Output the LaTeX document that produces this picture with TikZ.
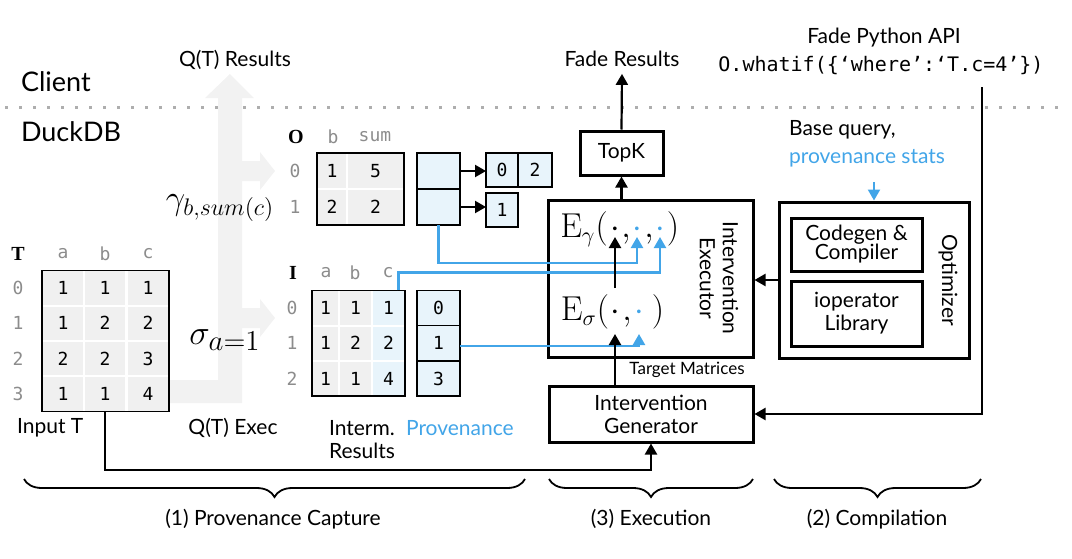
\documentclass[tikz,border=0pt]{standalone}
\usepackage[no-math]{fontspec}
\setmainfont{Lato}
\setmonofont{DejaVu Sans Mono}
\newfontfamily\tabserif{Liberation Serif}
\usetikzlibrary{arrows.meta,decorations.pathreplacing}

\definecolor{provblue}{HTML}{42A5E8}
\definecolor{cellblue}{HTML}{E8F4FB}
\definecolor{cellgray}{HTML}{F0F0F0}
\definecolor{flowgray}{HTML}{F2F2F2}
\definecolor{idxgray}{HTML}{8C8C8C}

\tikzset{
    gcell/.style={draw=white, line width=1pt, fill=cellgray, inner sep=0pt, outer sep=0pt,
        font=\ttfamily\fontsize{9}{10}\selectfont},
    bcell/.style={gcell, fill=cellblue},
    pcell/.style={draw=black, line width=0.75pt, fill=cellblue, inner sep=0pt, outer sep=0pt,
        font=\ttfamily\fontsize{9}{10}\selectfont},
    idx/.style={text=idxgray, inner sep=0pt, font=\ttfamily\fontsize{9}{10}\selectfont},
    tname/.style={inner sep=0pt, font=\tabserif\bfseries\fontsize{10}{11}\selectfont},
    bigbox/.style={draw, line width=1.5pt, inner sep=0pt, align=center},
    lbl/.style={font=\fontsize{10.5}{11.5}\selectfont},
    form/.style={inner sep=0pt, anchor=base, font=\fontsize{16}{18}\selectfont},
    arr/.style={-{Triangle[length=5.5pt,width=6pt]}, line width=1.1pt},
    provarr/.style={arr, draw=provblue},
    grp/.style={decorate, decoration={brace, mirror, amplitude=9pt}, line width=0.9pt},
}

\begin{document}
\begin{tikzpicture}[x=0.5pt,y=-0.5pt]
            \useasboundingbox (0,0) rectangle (1072,558);

                % client / duckdb split
            \draw[idxgray!70, line width=1.5pt, dash pattern=on 1.5pt off 5.5pt] (5,107) -- (1065,107);
            \node[anchor=west, font=\fontsize{13.5}{15}\selectfont] (client) at (14,82) {Client};
            \node[anchor=west, font=\fontsize{13.5}{15}\selectfont] (duckdb) at (14,132) {DuckDB};

                % query flow (grey arrow)
            \fill[flowgray] (169,380) -- (218,380) -- (218,98) -- (205,98) -- (230,74) -- (254,98)
                -- (242,98) -- (242,161) -- (260,161) -- (260,152) -- (275,171) -- (260,190)
                -- (260,181) -- (242,181) -- (242,308) -- (260,308) -- (260,299) -- (275,318)
                -- (260,337) -- (260,328) -- (242,328) -- (242,403) -- (169,403) -- cycle;
            \node[lbl] (qres) at (235,60) {Q(T) Results};
            \node[font=\fontsize{18}{20}\selectfont] (gam) at (220,208) {$\gamma_{b,sum(c)}$};
            \node[font=\fontsize{19}{21}\selectfont] (sig) at (225,340) {$\sigma_{a=1}$};

                % input table T
            \node[tname] (tT) at (18,254) {T};
            \foreach \c/\x in {a/63,b/105,c/148}
                \node[idx] (th\c) at (\x,254) {\c};
            \foreach \r/\va/\vb/\vc in {0/1/1/1,1/1/2/2,2/2/2/3,3/1/1/4}{
                \node[idx] (ti\r) at (18,{288+35.3*\r}) {\r};
                \node[gcell, minimum width=21pt, minimum height=17.6pt] (ta\r) at (63,{288+35.3*\r}) {\va};
                \node[gcell, minimum width=21pt, minimum height=17.6pt] (tb\r) at (105,{288+35.3*\r}) {\vb};
                \node[gcell, minimum width=21pt, minimum height=17.6pt] (tc\r) at (148,{288+35.3*\r}) {\vc};
            }
            \draw[line width=0.75pt] (ta0.north west) rectangle (tc3.south east);

                % output table O with provenance
            \node[tname] (tO) at (296,137) {O};
            \node[idx] (ohb) at (333,137) {b};
            \node[idx] (ohs) at (375,137) {sum};
            \foreach \r/\vb/\vs in {0/1/5,1/2/2}{
                \node[idx] (oi\r) at (295,{171+36*\r}) {\r};
                \node[gcell, minimum width=15pt, minimum height=18pt] (ob\r) at (332,{171+36*\r}) {\vb};
                \node[gcell, minimum width=28.5pt, minimum height=18pt] (os\r) at (375.5,{171+36*\r}) {\vs};
                \node[pcell, minimum width=21.5pt, minimum height=18pt] (op\r) at (438.5,{171+36*\r}) {};
            }
            \draw[line width=0.75pt] (ob0.north west) rectangle (os1.south east);
            \node[pcell, minimum width=16pt, minimum height=17pt] (l00) at (502,170) {0};
            \node[pcell, minimum width=17pt, minimum height=17pt] (l01) at (535,170) {2};
            \node[pcell, minimum width=16pt, minimum height=17pt] (l10) at (502,210) {1};
            \draw[arr] (op0.east) -- (op0.east -| l00.west);
            \draw[arr] (op1.east) -- (op1.east -| l10.west);

                % intermediate table I with provenance
            \node[tname] (tI) at (293,273) {I};
            \foreach \c/\x in {a/326,b/355,c/388}
                \node[idx] (ih\c) at (\x,273) {\c};
            \foreach \r/\va/\vb/\vc/\p in {0/1/1/1/0,1/1/2/2/1,2/1/1/4/3}{
                \node[idx] (ii\r) at (292,{308+35.3*\r}) {\r};
                \node[gcell, minimum width=13.5pt, minimum height=17.6pt] (ia\r) at (325.5,{308+35.3*\r}) {\va};
                \node[gcell, minimum width=16.5pt, minimum height=17.6pt] (ib\r) at (355.5,{308+35.3*\r}) {\vb};
                \node[bcell, minimum width=16.5pt, minimum height=17.6pt] (ic\r) at (388.5,{308+35.3*\r}) {\vc};
                \node[pcell, minimum width=21.5pt, minimum height=17.6pt] (ip\r) at (438.5,{308+35.3*\r}) {\p};
            }
            \draw[line width=0.75pt] (ia0.north west) rectangle (ic2.south east);

                % labels under the tables
            \node[lbl, anchor=west] (inT) at (10,428) {Input T};
            \node[lbl] (qexec) at (233,428) {Q(T) Exec};
            \node[lbl, anchor=north west, align=left] (interm) at (322,413) {Interm.\\Results};
            \node[lbl, anchor=west, text=provblue] (provl) at (399,428) {Provenance};

                % intervention executor
            \node[bigbox, minimum width=102.5pt, minimum height=78.5pt] (exec) at (650.5,278.5) {};
            \node[lbl, rotate=-90, align=center] (execl) at (719,278) {Intervention\\Executor};
            \node[form] (ge) at (584,237) {$\mathrm{E}_\gamma($};
            \node[form] (gd1) at (615,237) {$\cdot$};
            \node[form] (gc1) at (626,237) {$,$};
            \node[form, text=provblue] (gd2) at (637,237) {$\cdot$};
            \node[form] (gc2) at (649,237) {$,$};
            \node[form, text=provblue] (gd3) at (660,237) {$\cdot$};
            \node[form] (gp) at (673,237) {$)$};
            \node[form] (se) at (585,320) {$\mathrm{E}_\sigma($};
            \node[form] (sd1) at (615,320) {$\cdot$};
            \node[form] (sc1) at (627,320) {$,$};
            \node[form, text=provblue] (sd2) at (639,320) {$\cdot$};
            \node[form] (sp) at (658,320) {$)$};

            \node[bigbox, minimum width=41.5pt, minimum height=22pt, lbl] (topk) at (621.5,153) {TopK};
            \node[lbl] (fres) at (622,59) {Fade Results};
            \node[bigbox, minimum width=102pt, minimum height=28pt, lbl] (gen) at (651,414) {Intervention\\Generator};
            \node[font=\fontsize{8.5}{9}\selectfont] (tmat) at (687,370) {Target Matrices};

                % optimizer
            \node[bigbox, minimum width=95pt, minimum height=78pt] (opt) at (874,280) {};
            \node[bigbox, minimum width=65.5pt, minimum height=26.5pt, lbl] (cgen) at (856.5,244.5) {Codegen \&\\[-2pt]Compiler};
            \node[bigbox, minimum width=65.5pt, minimum height=32.5pt, lbl] (iolib) at (856.5,313.5) {ioperator\\Library};
            \node[lbl, rotate=-90] (optl) at (948,280) {Optimizer};
            \node[lbl, anchor=west] (bq) at (782,130) {Base query,};
            \node[lbl, anchor=west, text=provblue] (pstats) at (782,158) {provenance stats};

                % python api
            \node[lbl] (api) at (884,38) {Fade Python API};
            \node[font=\ttfamily\fontsize{10}{11}\selectfont] (code) at (881,66) {O.whatif(\{‘where’:‘T.c=4’\})};
            \coordinate (apiout) at (982,87);
            \coordinate (bus) at (0,470);

                % connectors
            \draw[provarr] (op1.south) -- ++(0,38) -| (gd2.base);
            \draw[provarr] ([xshift=5pt]ic0.north) -- ++(0,-18) -| (gd3.base);
            \draw[provarr] ([yshift=-1.5pt]ip1.east) -| ([yshift=-7pt]sd2.base);
            \draw[arr] (gen.north -| sd1.base) -- ([yshift=-7pt]sd1.base);
            \draw[arr] ([yshift=16pt]sd1.base) -- (gd1.base);
            \draw[arr] (topk.south |- exec.north) -- (topk.south);
            \draw[arr] (topk.north) -- (fres.south);
            \draw[arr] (opt.west) -- (opt.west -| exec.east);
            \draw[provarr, shorten <=4pt] (opt.north |- pstats.south) -- (opt.north);
            \draw[arr] (apiout) |- (gen.east);
            \draw[arr] (tb3.south) -- (tb3.south |- bus) -| (gen.south);

                % stages
            \draw[grp] (24,479) -- (525,479);
            \draw[grp] (549,479) -- (753,479);
            \draw[grp] (774,479) -- (981,479);
            \node[lbl] (st1) at (273,519) {(1) Provenance Capture};
            \node[lbl] (st3) at (651,519) {(3) Execution};
            \node[lbl] (st2) at (877,519) {(2) Compilation};
\end{tikzpicture}
\end{document}
